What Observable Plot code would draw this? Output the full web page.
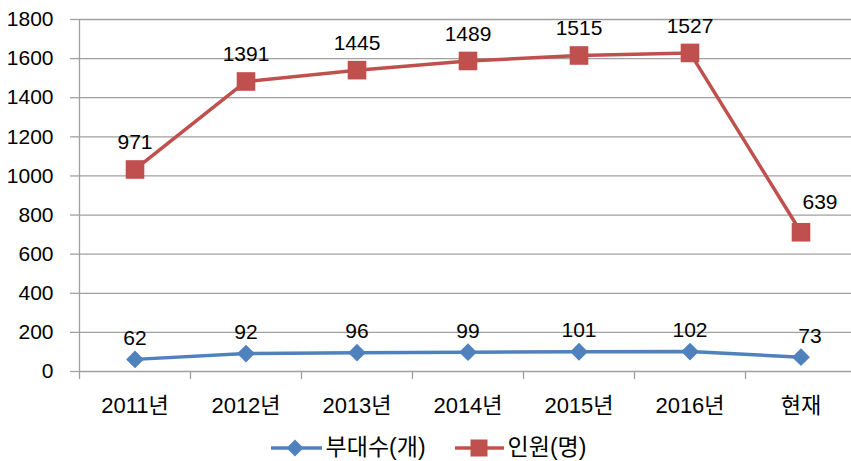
<!DOCTYPE html>
<html><head><meta charset="utf-8">
<script src="https://cdn.jsdelivr.net/npm/d3@7"></script>
<script src="https://cdn.jsdelivr.net/npm/@observablehq/plot@0.6"></script>
<style>
body{margin:0;background:#fff;font-family:"Liberation Sans","Noto Sans CJK KR",sans-serif;overflow:hidden;}
#legend{display:flex;justify-content:center;align-items:center;gap:29px;height:41px;margin-top:7px;font-size:23px;line-height:1;color:#000;padding-left:6px;}
.item{display:flex;align-items:center;gap:4px;line-height:1;}
.item span{line-height:1;}
</style>
</head><body>
<div id="chart"></div>
<div id="legend"></div>
<script>
const categories = ["2011년","2012년","2013년","2014년","2015년","2016년","현재"];
const units = [62, 92, 96, 99, 101, 102, 73];
const people = [971, 1391, 1445, 1489, 1515, 1527, 639];
const yTicks = [0, 200, 400, 600, 800, 1000, 1200, 1400, 1600, 1800];
const seriesNames = ["부대수(개)", "인원(명)"];
const colors = ["#4F81BD", "#C0504D"];

// stacked line chart: second series drawn on top of first
const data = categories.map((c, i) => ({i, c, units: units[i], people: people[i], stacked: units[i] + people[i]}));
const gridColor = "#a0a0a0";
const font = '"Liberation Sans","Noto Sans CJK KR",sans-serif';
const fmt = d => String(d);

const plot = Plot.plot({
  width: 851, height: 420,
  marginLeft: 79, marginRight: 0, marginTop: 19, marginBottom: 49,
  style: {fontFamily: font, fontSize: "21px", color: "#000", background: "#fff", display: "block"},
  x: {type: "linear", domain: [-0.5, 6.5], insetRight: -5},
  y: {domain: [0, 1800]},
  marks: [
    Plot.ruleY(yTicks, {stroke: gridColor, strokeWidth: 1.3}),
    Plot.ruleX([-0.5], {stroke: gridColor, strokeWidth: 1.3}),
    Plot.axisY({ticks: yTicks, tickSize: 9, tickPadding: 17, tickFormat: fmt, stroke: gridColor, strokeWidth: 1.3, label: null, fontSize: 21}),
    Plot.axisX({ticks: d3.range(-0.5, 6, 1), tickSize: 8, tickFormat: () => "", stroke: gridColor, strokeWidth: 1.3, label: null}),
    Plot.axisX({ticks: d3.range(0, 7), tickSize: 0, tickPadding: 26, tickFormat: i => categories[i], label: null, fontSize: 22}),
    Plot.line(data, {x: "i", y: "units", stroke: colors[0], strokeWidth: 3.5}),
    Plot.dot(data, {x: "i", y: "units", symbol: "diamond2", r: 8, fill: colors[0], stroke: "none"}),
    Plot.line(data, {x: "i", y: "stacked", stroke: colors[1], strokeWidth: 3.5}),
    Plot.dot(data, {x: "i", y: "stacked", symbol: "square", r: 10.5, fill: colors[1], stroke: "none"}),
    Plot.text(data.slice(0, 6), {x: "i", y: "units", text: d => fmt(d.units), dy: -21, fontSize: 21}),
    Plot.text(data.slice(6), {x: "i", y: "units", text: d => fmt(d.units), dy: -21, dx: 9, fontSize: 21}),
    Plot.text(data.slice(0, 6), {x: "i", y: "stacked", text: d => fmt(d.people), dy: -27, fontSize: 21}),
    Plot.text(data.slice(6), {x: "i", y: "stacked", text: d => fmt(d.people), dy: -30, dx: 19, fontSize: 21})
  ]
});
document.getElementById("chart").appendChild(plot);

const legend = document.getElementById("legend");
const symbols = [
  '<svg width="51" height="20"><line x1="0" y1="10" x2="51" y2="10" stroke="' + colors[0] + '" stroke-width="3.5"/><path d="M24,1.5L32.5,10L24,18.5L15.5,10Z" fill="' + colors[0] + '"/></svg>',
  '<svg width="49" height="20"><line x1="0" y1="10" x2="49" y2="10" stroke="' + colors[1] + '" stroke-width="3.5"/><rect x="15.5" y="1.5" width="17" height="17" fill="' + colors[1] + '"/></svg>'
];
seriesNames.forEach((name, k) => {
  const item = document.createElement("div");
  item.className = "item";
  item.innerHTML = symbols[k] + "<span>" + name + "</span>";
  legend.appendChild(item);
});
</script>
</body></html>
